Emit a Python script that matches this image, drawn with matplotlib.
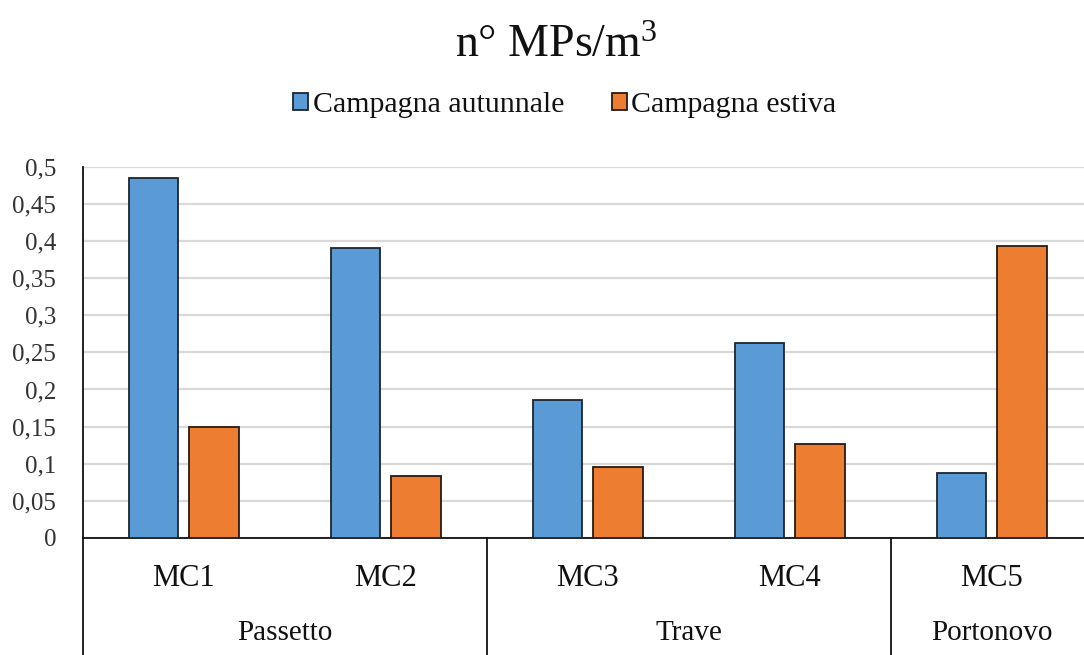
import matplotlib
matplotlib.use("Agg")
import matplotlib.pyplot as plt
import matplotlib.transforms as mtransforms
import numpy as np

categories = ["MC1", "MC2", "MC3", "MC4", "MC5"]
groups = ["Passetto", "Trave", "Portonovo"]
group_spans = [(0, 1), (2, 3), (4, 4)]
autunnale = [0.485, 0.390, 0.186, 0.262, 0.088]
estiva = [0.150, 0.083, 0.095, 0.126, 0.393]
series_names = ["Campagna autunnale", "Campagna estiva"]
ytick_vals = [0, 0.05, 0.1, 0.15, 0.2, 0.25, 0.3, 0.35, 0.4, 0.45, 0.5]
ytick_labels = ["0", "0,05", "0,1", "0,15", "0,2", "0,25", "0,3", "0,35", "0,4", "0,45", "0,5"]
title = "n° MPs/m$^{3}$"

plt.rcParams['font.family'] = ['Liberation Serif', 'DejaVu Serif']
plt.rcParams['mathtext.fontset'] = 'custom'
plt.rcParams['mathtext.rm'] = 'Liberation Serif'
plt.rcParams['mathtext.it'] = 'Liberation Serif'
plt.rcParams['mathtext.default'] = 'rm'

W, H = 1084, 655
fig = plt.figure(figsize=(W / 100, H / 100), dpi=100)
ax_left, ax_right, ax_bottom, ax_top = 82.7, 1092.7, 538, 166.7
ax = fig.add_axes([ax_left / W, 1 - ax_bottom / H, (ax_right - ax_left) / W, (ax_bottom - ax_top) / H])

x = np.arange(len(categories))
bw = 0.243
off = 0.15
blue = "#5B9BD5"
orange = "#ED7D31"
ax.bar(x - off, autunnale, bw, color=blue, edgecolor="#1c2530", linewidth=1.3, label=series_names[0], zorder=3)
ax.bar(x + off, estiva, bw, color=orange, edgecolor="#2a1a10", linewidth=1.3, label=series_names[1], zorder=3)

ax.set_xlim(-0.5, len(categories) - 0.5)
ax.set_ylim(0, 0.5)
ax.set_yticks(ytick_vals)
ax.set_yticklabels(ytick_labels, fontsize=18, color="#333333")
ax.tick_params(axis='y', length=0, pad=19)
ax.set_xticks([])
ax.yaxis.grid(True, color="#D9D9D9", linewidth=1.6, zorder=0)
ax.set_axisbelow(True)
for s in ["top", "right"]:
    ax.spines[s].set_visible(False)
ax.spines["left"].set_color("#111111")
ax.spines["bottom"].set_color("#111111")
ax.spines["left"].set_linewidth(1.3)
ax.spines["bottom"].set_linewidth(1.3)

trans = mtransforms.blended_transform_factory(ax.transData, ax.transAxes)
ax_h = ax_bottom - ax_top
y_cat = -(578 - ax_bottom) / ax_h
y_grp = -(633 - ax_bottom) / ax_h
y_fig_bottom = -(H - ax_bottom) / ax_h

for xi, c in zip(x, categories):
    ax.text(xi, y_cat, c, transform=trans, ha='center', va='center', fontsize=22, color="#111111")

for g, (a, b) in zip(groups, group_spans):
    ax.text((a + b) / 2, y_grp, g, transform=trans, ha='center', va='center', fontsize=21, color="#111111")

# separators for the multi-level axis
for sep in [-0.5] + [b + 0.5 for (_, b) in group_spans[:-1]]:
    ax.plot([sep, sep], [0, y_fig_bottom], transform=trans, color="#111111", linewidth=1.3, clip_on=False)

fig.text(556 / W, 1 - 57 / H, title, ha='center', va='baseline', fontsize=33, color="#111111")

leg = fig.legend(loc='center', bbox_to_anchor=(565 / W, 1 - 105 / H), ncol=2, frameon=False,
                 fontsize=21.5, handlelength=0.5, handleheight=0.5, handletextpad=0.15,
                 columnspacing=1.6, borderaxespad=0)
for t in leg.get_texts():
    t.set_color("#111111")

fig.savefig("out.png", dpi=100)
